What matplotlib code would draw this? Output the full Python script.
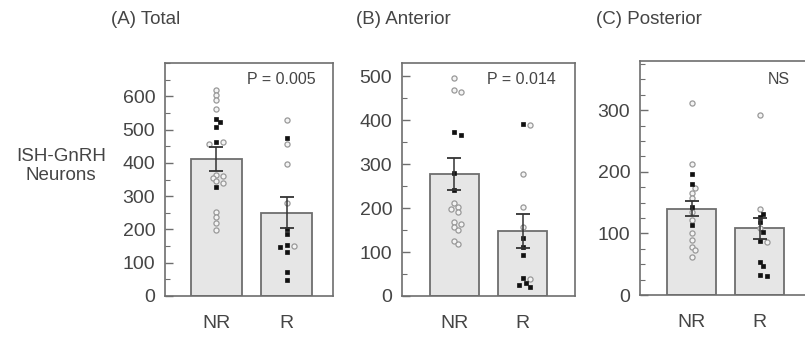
import numpy as np
import matplotlib
matplotlib.use("Agg")
import matplotlib.pyplot as plt
from matplotlib.ticker import MultipleLocator

plt.rcParams['font.family'] = ['Liberation Sans', 'DejaVu Sans']

# ---------------- data ----------------
groups = ["NR", "R"]
panel_titles = ["(A) Total", "(B) Anterior", "(C) Posterior"]
p_labels = ["P = 0.005", "P = 0.014", "NS"]
y_label = "ISH-GnRH\nNeurons"

total_mean = [411, 250]
total_sem = [36, 46]
anterior_mean = [277, 148]
anterior_sem = [37, 38]
posterior_mean = [140, 108]
posterior_sem = [12, 17]

# individual animals: open (grey) and filled (black) symbols
total_nr_open = [618, 603, 588, 563, 463, 458, 365, 360, 355, 345, 340, 253, 238, 218, 198]
total_nr_filled = [533, 523, 508, 463, 328]
total_r_open = [528, 458, 398, 278, 150]
total_r_filled = [476, 200, 186, 153, 148, 133, 73, 48]

anterior_nr_open = [497, 468, 463, 212, 203, 197, 192, 169, 164, 157, 150, 126, 118]
anterior_nr_filled = [372, 366, 279, 242]
anterior_r_open = [388, 277, 203, 156, 38]
anterior_r_filled = [392, 133, 112, 93, 40, 30, 25, 21]

posterior_nr_open = [312, 213, 174, 165, 157, 135, 122, 100, 89, 78, 73, 62]
posterior_nr_filled = [196, 181, 143, 113]
posterior_r_open = [292, 139, 109, 86]
posterior_r_filled = [132, 126, 118, 103, 87, 53, 47, 32, 31]

# ---------------- layout ----------------
W, H = 805, 339
fig = plt.figure(figsize=(W / 100, H / 100), dpi=100)

TXT = "#454545"
SP = "#6e6e6e"

panels = [
    dict(box=(165, 333, 63, 296), xlim=(-0.72, 1.65), ylim=(0, 700), minor=50,
         ticks=[0, 100, 200, 300, 400, 500, 600],
         mean=total_mean, sem=total_sem,
         open=[total_nr_open, total_r_open], filled=[total_nr_filled, total_r_filled],
         title_x=111, ptext_x=247),
    dict(box=(402, 575, 63, 296), xlim=(-0.77, 1.77), ylim=(0, 530), minor=50,
         ticks=[0, 100, 200, 300, 400, 500],
         mean=anterior_mean, sem=anterior_sem,
         open=[anterior_nr_open, anterior_r_open], filled=[anterior_nr_filled, anterior_r_filled],
         title_x=356, ptext_x=487),
    dict(box=(640, 812, 61, 295), xlim=(-0.76, 1.77), ylim=(0, 380), minor=25,
         ticks=[0, 100, 200, 300],
         mean=posterior_mean, sem=posterior_sem,
         open=[posterior_nr_open, posterior_r_open], filled=[posterior_nr_filled, posterior_r_filled],
         title_x=596, ptext_x=768),
]


def swarm(values, xppu, yppu, d=4.4):
    """simple deterministic beeswarm offsets (in data units)"""
    order = np.argsort(values)[::-1]
    placed = []
    offs = np.zeros(len(values))
    for i in order:
        v = values[i]
        for k in [0, 1, -1, 2, -2, 3, -3, 4, -4]:
            x = k * d * 0.8
            ok = all((x - px) ** 2 + ((v - pv) * yppu) ** 2 >= d ** 2 for px, pv in placed)
            if ok:
                break
        placed.append((x, v))
        offs[i] = x / xppu
    return offs


for p, title, ptxt in zip(panels, panel_titles, p_labels):
    l, r, t, b = p["box"]
    ax = fig.add_axes([l / W, 1 - b / H, (r - l) / W, (b - t) / H])
    ax.set_xlim(*p["xlim"])
    ax.set_ylim(*p["ylim"])
    xppu = (r - l) / (p["xlim"][1] - p["xlim"][0])
    yppu = (b - t) / (p["ylim"][1] - p["ylim"][0])
    xs = np.arange(len(groups))
    ax.bar(xs, p["mean"], width=0.72, color="#e6e6e6", edgecolor=SP, linewidth=1.3, zorder=1)
    for gi in range(len(groups)):
        op = list(p["open"][gi])
        fi = list(p["filled"][gi])
        vals = np.array(op + fi, dtype=float)
        offs = swarm(vals, xppu, yppu)
        n = len(op)
        ax.plot(gi + offs[:n], vals[:n], linestyle="none", marker="o", ms=3.7,
                mfc="#f4f4f4", mec="#999999", mew=0.9, zorder=3)
        ax.plot(gi + offs[n:], vals[n:], linestyle="none", marker="s", ms=3.2,
                mfc="#111111", mec="#111111", mew=0.5, zorder=4)
    ax.errorbar(xs, p["mean"], yerr=p["sem"], fmt="none", ecolor="#333333",
                elinewidth=1.1, capsize=5, capthick=1.3, zorder=5)

    ax.set_xticks(xs)
    ax.set_xticklabels(groups, fontsize=14, color=TXT)
    ax.tick_params(axis="x", length=0, pad=14)
    ax.set_yticks(p["ticks"])
    ax.yaxis.set_minor_locator(MultipleLocator(p["minor"]))
    ax.tick_params(axis="y", which="major", direction="in", length=6, width=1.0,
                   color=SP, labelsize=14, labelcolor=TXT, pad=7)
    ax.tick_params(axis="y", which="minor", direction="in", length=3.5, width=0.8, color=SP)
    for s in ax.spines.values():
        s.set_color(SP)
        s.set_linewidth(1.2)

    fig.text(p["title_x"] / W, 1 - 20 / H, title, fontsize=13.5, color=TXT,
             ha="left", va="center")
    fig.text(p["ptext_x"] / W, 1 - 79 / H, ptxt, fontsize=11.5, color=TXT,
             ha="left", va="center")

fig.text(61 / W, 1 - 166 / H, y_label, fontsize=13.5, color=TXT, ha="center",
         va="center", linespacing=1.15)

fig.savefig("out.png", dpi=100, facecolor="white")
